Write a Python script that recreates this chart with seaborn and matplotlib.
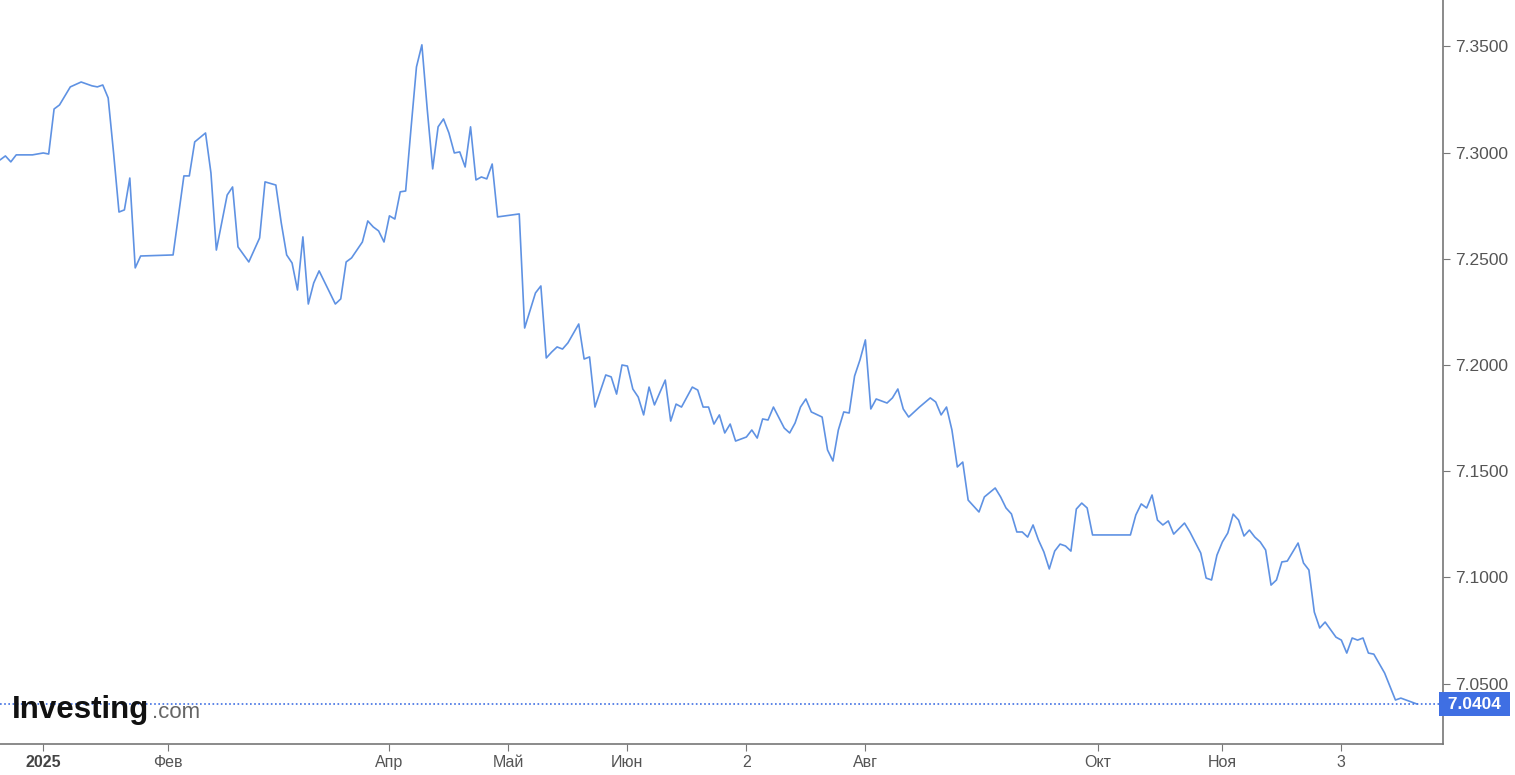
import numpy as np
import pandas as pd
import matplotlib
matplotlib.use("Agg")
import matplotlib.pyplot as plt
import matplotlib.transforms as mtransforms
import seaborn as sns

# Data: USD/CNY daily close, trading-day index from 2024-12-20
day = [0, 1, 2, 3, 6, 8, 9, 10, 11, 12, 13, 15, 17, 18, 19, 20, 21, 22, 23, 24,
       25, 26, 32, 34, 35, 36, 38, 39, 40, 42, 43, 44, 46, 48, 49, 51, 52, 53, 54, 55,
       56, 57, 58, 59, 62, 63, 64, 65, 67, 68, 69, 70, 71, 72, 73, 74, 75, 76, 77, 78,
       79, 80, 81, 82, 83, 84, 85, 86, 87, 88, 89, 90, 91, 92, 96, 97, 99, 100, 101, 102,
       103, 104, 105, 107, 108, 109, 110, 112, 113, 114, 115, 116, 117, 118, 119, 120, 121, 123, 124, 125,
       126, 128, 129, 130, 131, 132, 133, 134, 135, 136, 138, 139, 140, 141, 142, 143, 145, 146, 147, 148,
       149, 150, 152, 153, 154, 155, 156, 157, 158, 159, 160, 161, 162, 164, 165, 166, 167, 168, 170, 172,
       173, 174, 175, 176, 177, 178, 179, 181, 182, 184, 185, 186, 187, 188, 189, 190, 191, 192, 193, 194,
       195, 196, 197, 198, 199, 200, 201, 202, 209, 210, 211, 212, 213, 214, 215, 216, 217, 219, 220, 222,
       223, 224, 225, 226, 227, 228, 229, 230, 231, 232, 233, 234, 235, 236, 237, 238, 240, 241, 242, 243,
       244, 245, 247, 248, 249, 250, 251, 252, 253, 254, 256, 258, 259, 261, 262]

rate = [7.2965, 7.2984, 7.2956, 7.2989, 7.2989, 7.2998, 7.2993, 7.3205, 7.3224, 7.3266,
        7.3309, 7.3332, 7.3314, 7.3309, 7.3318, 7.3257, 7.2998, 7.2720, 7.2730, 7.2880,
        7.2457, 7.2513, 7.2518, 7.2890, 7.2890, 7.3050, 7.3092, 7.2904, 7.2541, 7.2800,
        7.2838, 7.2556, 7.2485, 7.2598, 7.2862, 7.2847, 7.2669, 7.2518, 7.2480, 7.2353,
        7.2603, 7.2287, 7.2386, 7.2443, 7.2287, 7.2311, 7.2485, 7.2504, 7.2579, 7.2678,
        7.2650, 7.2631, 7.2579, 7.2702, 7.2687, 7.2815, 7.2819, 7.3116, 7.3403, 7.3507,
        7.3201, 7.2923, 7.3121, 7.3158, 7.3092, 7.2998, 7.3003, 7.2932, 7.3121, 7.2871,
        7.2885, 7.2876, 7.2946, 7.2697, 7.2711, 7.2174, 7.2339, 7.2372, 7.2033, 7.2061,
        7.2085, 7.2075, 7.2104, 7.2193, 7.2028, 7.2038, 7.1802, 7.1953, 7.1944, 7.1863,
        7.2000, 7.1995, 7.1887, 7.1849, 7.1765, 7.1896, 7.1812, 7.1929, 7.1736, 7.1816,
        7.1802, 7.1896, 7.1882, 7.1802, 7.1802, 7.1722, 7.1765, 7.1680, 7.1722, 7.1642,
        7.1661, 7.1694, 7.1656, 7.1746, 7.1741, 7.1802, 7.1703, 7.1680, 7.1727, 7.1802,
        7.1840, 7.1779, 7.1755, 7.1600, 7.1548, 7.1694, 7.1779, 7.1774, 7.1948, 7.2024,
        7.2118, 7.1793, 7.1840, 7.1821, 7.1845, 7.1887, 7.1793, 7.1755, 7.1802, 7.1845,
        7.1826, 7.1765, 7.1802, 7.1694, 7.1520, 7.1543, 7.1364, 7.1308, 7.1379, 7.1421,
        7.1379, 7.1327, 7.1299, 7.1214, 7.1214, 7.1190, 7.1247, 7.1176, 7.1120, 7.1040,
        7.1124, 7.1157, 7.1148, 7.1124, 7.1322, 7.1350, 7.1327, 7.1200, 7.1200, 7.1294,
        7.1346, 7.1327, 7.1388, 7.1270, 7.1247, 7.1266, 7.1204, 7.1256, 7.1214, 7.1115,
        7.0997, 7.0988, 7.1105, 7.1167, 7.1209, 7.1298, 7.1270, 7.1195, 7.1223, 7.1190,
        7.1167, 7.1129, 7.0964, 7.0988, 7.1073, 7.1077, 7.1162, 7.1068, 7.1035, 7.0837,
        7.0762, 7.0790, 7.0719, 7.0705, 7.0644, 7.0715, 7.0705, 7.0715, 7.0644, 7.0639,
        7.0550, 7.0423, 7.0432, 7.0413, 7.0404]

last_value = 7.0404

start_date = "2024-12-20"
tick_dates = ["2025-01-01", "2025-02-03", "2025-04-01", "2025-05-01", "2025-06-02",
              "2025-07-02", "2025-08-01", "2025-10-01", "2025-11-03", "2025-12-03"]
tick_labels = ["2025", "Фев", "Апр", "Май", "Июн", "2", "Авг", "Окт", "Ноя", "3"]
y_ticks = [7.05, 7.10, 7.15, 7.20, 7.25, 7.30, 7.35]

df = pd.DataFrame({"day": day, "rate": rate})

# tick positions as trading-day index
bdays = pd.bdate_range(start_date, "2025-12-31")
tick_pos = [bdays.get_indexer([pd.Timestamp(d)])[0] for d in tick_dates]

sns.set_style("white")
plt.rcParams["font.family"] = ["Liberation Sans", "DejaVu Sans"]

fig = plt.figure(figsize=(15.15, 7.75), dpi=100)
ax = fig.add_axes([0.0, 0.04, 0.9525, 0.96])

line_color = "#5f92e3"
label_blue = "#3f6fe3"

sns.lineplot(data=df, x="day", y="rate", ax=ax, color=line_color, linewidth=1.2)

ax.axhline(last_value, color=label_blue, linestyle=(0, (1, 1.5)), linewidth=1.2)

ax.set_xlim(0, 266.8)
ax.set_ylim(7.0216, 7.3718)

ax.yaxis.tick_right()
ax.set_yticks(y_ticks)
ax.set_yticklabels([f"{v:.4f}" for v in y_ticks])
ax.set_xticks(tick_pos)
ax.set_xticklabels(tick_labels)
ax.set_xlabel("")
ax.set_ylabel("")

for s in ["top", "left"]:
    ax.spines[s].set_visible(False)
for s in ["bottom", "right"]:
    ax.spines[s].set_color("#777777")
    ax.spines[s].set_linewidth(1.2)

ax.tick_params(axis="y", which="both", right=True, left=False, length=5,
               color="#777777", labelsize=12.5, labelcolor="#555555", pad=4)
ax.tick_params(axis="x", which="both", bottom=True, length=5,
               color="#777777", labelsize=11.5, labelcolor="#555555", pad=3)
ax.get_xticklabels()[0].set_fontweight("bold")
ax.get_xticklabels()[0].set_color("#444444")

# last value label
trans = mtransforms.blended_transform_factory(ax.transAxes, ax.transData)
ax.text(1.0, last_value, " 7.0404 ", transform=trans, ha="left", va="center",
        fontsize=12.5, color="white", fontweight="bold", clip_on=False,
        bbox=dict(boxstyle="square,pad=0.25", facecolor=label_blue, edgecolor="none"))

# watermark
fig.text(0.008, 0.073, "Investing", fontsize=22.5, fontweight="bold", color="#111111",
         ha="left", va="baseline")
fig.text(0.1, 0.073, ".com", fontsize=16, color="#666666", ha="left", va="baseline")

fig.savefig("out.png", dpi=100, facecolor="white")
